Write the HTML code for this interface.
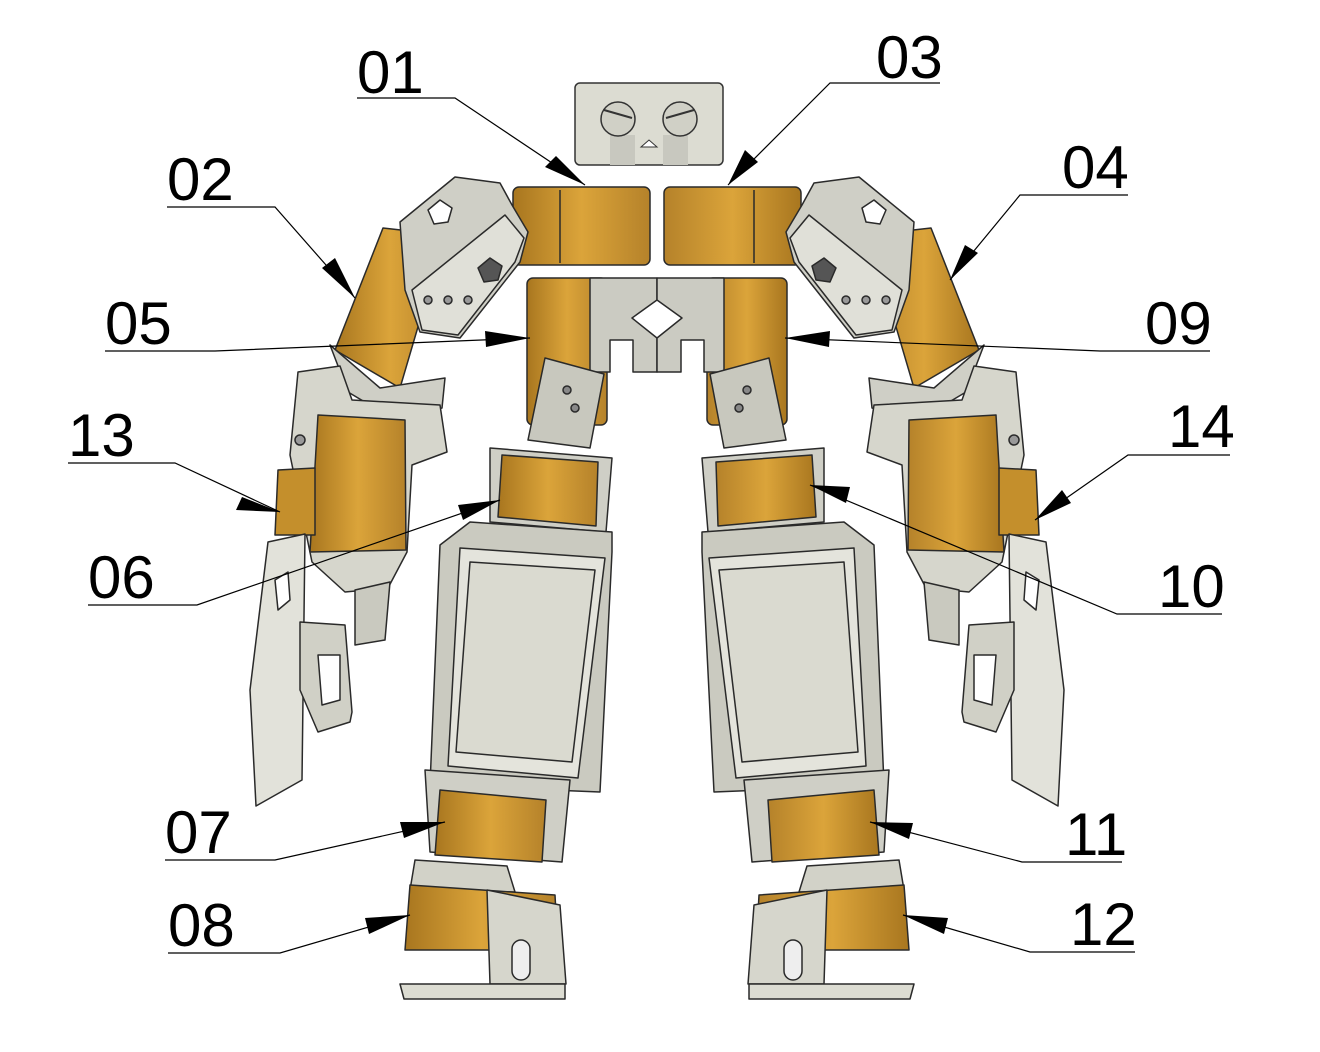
<!DOCTYPE html>
<html><head><meta charset="utf-8"><style>
html,body{margin:0;padding:0;background:#fff;}
svg{display:block;}
text{font-family:"Liberation Sans",sans-serif;font-size:60px;fill:#000;}
</style></head><body>
<svg width="1320" height="1052" viewBox="0 0 1320 1052" xmlns="http://www.w3.org/2000/svg">
<defs>
<linearGradient id="g" x1="0" x2="1" y1="0" y2="0">
<stop offset="0" stop-color="#a8761f"/><stop offset="0.5" stop-color="#dba43a"/><stop offset="1" stop-color="#b5822a"/></linearGradient>
<g id="half" stroke="#2a2a2a" stroke-width="1.5" stroke-linejoin="round">
 <!-- shoulder servo -->
 <rect x="513" y="187" width="137" height="78" rx="6" fill="url(#g)"/>
 <line x1="560" y1="190" x2="560" y2="263"/>
 <!-- upper arm servo -->
 <polygon points="383,228 445,235 400,388 335,350" fill="url(#g)"/>
 <!-- shoulder bracket -->
 <polygon points="400,222 455,177 500,183 512,205 528,232 520,262 460,338 420,332 405,290" fill="#cfcfc6"/>
 <polygon points="412,290 505,215 524,238 515,262 458,335 422,330" fill="#e0e0d8"/>
 <polygon points="478,268 490,258 502,266 498,280 484,282" fill="#555"/>
 <polygon points="428,210 440,200 452,208 448,222 434,224" fill="#fff"/>
 <circle cx="428" cy="300" r="4" fill="#999"/><circle cx="448" cy="300" r="4" fill="#999"/><circle cx="468" cy="300" r="4" fill="#999"/>
 <!-- elbow -->
 <polygon points="330,345 380,388 445,378 442,408 395,420 348,392" fill="#cfcfc6"/>
 <!-- lower arm bracket -->
 <polygon points="298,372 340,366 352,400 440,405 447,452 412,465 407,552 388,588 345,592 312,562 290,455" fill="#d6d6cc"/>
 <polygon points="318,415 405,420 406,550 310,552" fill="url(#g)"/>
 <polygon points="278,470 315,468 315,535 275,535" fill="#c48f2c"/>
 <circle cx="300" cy="440" r="5" fill="#999"/>
 <!-- hand -->
 <polygon points="268,542 305,534 302,780 256,806 250,690" fill="#e2e2da"/>
 <polygon points="275,580 288,572 290,600 278,610" fill="#fff"/>
 <polygon points="300,622 345,625 352,712 350,722 318,732 300,690" fill="#d0d0c6"/>
 <polygon points="318,655 340,655 340,700 322,705" fill="#fff"/>
 <polygon points="355,590 390,582 385,640 355,645" fill="#c9c9bf"/>
 <!-- hip servo -->
 <rect x="527" y="278" width="80" height="147" rx="6" fill="url(#g)"/>
 <!-- center plate -->
 <polygon points="590,278 657,278 657,300 632,318 657,338 657,372 633,372 633,340 610,340 610,372 590,372" fill="#cbcbc2"/>
 <!-- thigh bracket -->
 <polygon points="545,358 604,374 590,448 528,440" fill="#c8c8be"/>
 <circle cx="567" cy="390" r="4" fill="#888"/><circle cx="575" cy="408" r="4" fill="#888"/>
 <!-- knee servo frame -->
 <polygon points="490,448 612,458 606,532 490,522" fill="#cfcfc6"/>
 <polygon points="502,455 598,462 596,526 498,517" fill="url(#g)"/>
 <!-- shin -->
 <polygon points="470,522 612,532 612,552 600,792 430,785 440,545" fill="#cacac0"/>
 <polygon points="460,548 605,558 578,778 448,766" fill="#e4e4dc"/>
 <polygon points="470,562 595,570 572,762 456,752" fill="#dadad0"/>
 <!-- ankle -->
 <polygon points="425,770 570,780 562,862 430,852" fill="#cfcfc6"/>
 <polygon points="440,790 546,800 542,862 435,855" fill="url(#g)"/>
 <polygon points="415,860 507,866 515,892 410,890" fill="#d2d2c8"/>
 <!-- foot -->
 <polygon points="410,885 555,895 558,950 405,950" fill="url(#g)"/>
 <polygon points="487,890 560,905 566,984 490,984" fill="#d6d6cc"/>
 <rect x="512" y="940" width="18" height="40" rx="9" fill="#eee"/>
 <polygon points="400,984 565,984 565,999 404,999" fill="#dcdcd2"/>
</g>
</defs>
<use href="#half"/>
<use href="#half" transform="translate(1314,0) scale(-1,1)"/>
<!-- head -->
<rect x="575" y="83" width="148" height="82" rx="5" fill="#dcdcd2" stroke="#333" stroke-width="1.5"/>
<rect x="610" y="135" width="25" height="30" fill="#c8c8bf"/><rect x="663" y="135" width="25" height="30" fill="#c8c8bf"/>
<circle cx="618" cy="119" r="17" fill="#d0d0c6" stroke="#333" stroke-width="1.5"/>
<circle cx="680" cy="119" r="17" fill="#d0d0c6" stroke="#333" stroke-width="1.5"/>
<line x1="604" y1="110" x2="632" y2="118" stroke="#333" stroke-width="2"/>
<line x1="666" y1="118" x2="694" y2="110" stroke="#333" stroke-width="2"/>
<polygon points="641,147 657,147 649,140" fill="#fff" stroke="#333"/>
<!-- labels -->
<g stroke="#000" stroke-width="1.2" fill="none">
<polyline points="357,98 455,98 585,185"/>
<polyline points="940,83 830,83 728,185"/>
<polyline points="167,207 275,207 355,298"/>
<polyline points="1128,195 1020,195 950,280"/>
<polyline points="105,351 215,351 530,338"/>
<polyline points="1210,351 1100,351 785,338"/>
<polyline points="68,463 175,463 280,512"/>
<polyline points="1230,455 1128,455 1035,520"/>
<polyline points="88,605 197,605 500,500"/>
<polyline points="1222,614 1117,614 810,485"/>
<polyline points="165,860 275,860 445,822"/>
<polyline points="1122,862 1022,862 870,822"/>
<polyline points="168,953 280,953 410,915"/>
<polyline points="1135,952 1030,952 903,915"/>
</g>
<g fill="#000">
<polygon points="585,185 545,167 556,156"/>
<polygon points="728,185 745,150 758,162"/>
<polygon points="355,298 322,268 335,258"/>
<polygon points="950,280 965,245 978,253"/>
<polygon points="530,338 485,331 486,347"/>
<polygon points="785,338 830,331 829,347"/>
<polygon points="280,512 242,497 236,510"/>
<polygon points="1035,520 1062,490 1071,503"/>
<polygon points="500,500 458,505 463,520"/>
<polygon points="810,485 850,487 846,503"/>
<polygon points="445,822 400,822 404,838"/>
<polygon points="870,822 913,823 909,839"/>
<polygon points="410,915 365,918 369,934"/>
<polygon points="903,915 948,918 944,934"/>
</g>
<text x="357" y="93">01</text>
<text x="876" y="78">03</text>
<text x="167" y="200">02</text>
<text x="1062" y="188">04</text>
<text x="105" y="344">05</text>
<text x="1145" y="344">09</text>
<text x="68" y="456">13</text>
<text x="1168" y="447">14</text>
<text x="88" y="598">06</text>
<text x="1158" y="607">10</text>
<text x="165" y="853">07</text>
<text x="1065" y="855">11</text>
<text x="168" y="946">08</text>
<text x="1070" y="945">12</text>
</svg>
</body></html>
